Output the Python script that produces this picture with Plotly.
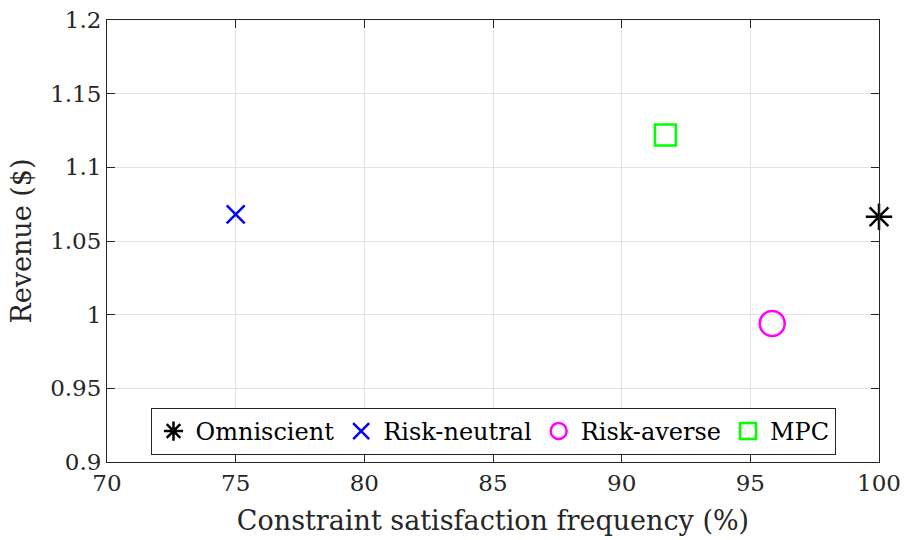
import plotly.graph_objects as go

# Revenue vs. constraint satisfaction for each control strategy
methods = ["Omniscient", "Risk-neutral", "Risk-averse", "MPC"]
satisfaction_pct = [100.0, 75.0, 95.85, 91.7]
revenue = [1.0665, 1.068, 0.994, 1.122]

symbols = ["asterisk-open", "x-thin-open", "circle-open", "square-open"]
colors = ["#000000", "#0000ff", "#ff00ff", "#00ff00"]
sizes = [22, 18, 25, 21]

FONT = "DejaVu Serif"

fig = go.Figure()
for name, x, y, sym, col, sz in zip(methods, satisfaction_pct, revenue, symbols, colors, sizes):
    fig.add_trace(go.Scatter(
        x=[x], y=[y], mode="markers", name=name,
        marker=dict(symbol=sym, size=sz, color=col, line=dict(color=col, width=2.5)),
        cliponaxis=False,
    ))

axis_common = dict(
    showgrid=True, gridcolor="#e3e3e3", gridwidth=1,
    showline=True, linecolor="#262626", linewidth=1, mirror="allticks",
    ticks="inside", ticklen=8, tickcolor="#262626",
    zeroline=False, automargin=False,
    tickfont=dict(family=FONT, size=23, color="#262626"),
)

fig.update_layout(
    width=904, height=540,
    paper_bgcolor="white", plot_bgcolor="white",
    margin=dict(l=107, r=25, t=20, b=78),
    font=dict(family=FONT, color="#262626"),
    xaxis=dict(range=[70, 100], tickvals=[70, 75, 80, 85, 90, 95, 100],
               title=dict(text="Constraint satisfaction frequency (%)",
                          font=dict(family=FONT, size=27), standoff=16),
               **axis_common),
    yaxis=dict(range=[0.9, 1.2], tickvals=[0.9, 0.95, 1.0, 1.05, 1.1, 1.15, 1.2],
               ticktext=["0.9", "0.95", "1", "1.05", "1.1", "1.15", "1.2"],
               title=dict(text="Revenue ($)", font=dict(family=FONT, size=27), standoff=10),
               **axis_common),
    legend=dict(orientation="h", x=0.5, y=0.016, xanchor="center", yanchor="bottom",
                bgcolor="white", bordercolor="#262626", borderwidth=1,
                font=dict(family=FONT, size=24, color="#000000"),
                itemsizing="trace", tracegroupgap=0, itemwidth=34),
    showlegend=True,
)

fig.write_html("out.html")
